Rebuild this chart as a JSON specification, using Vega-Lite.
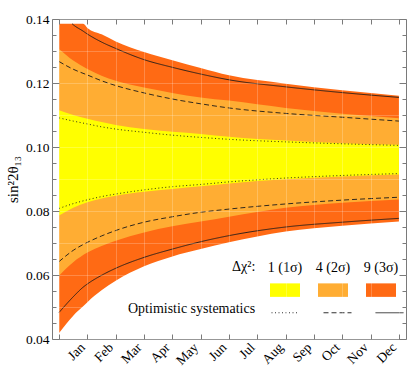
{
  "$schema": "https://vega.github.io/schema/vega-lite/v6.json",
  "width": 354,
  "height": 320,
  "autosize": {"type": "none"},
  "padding": {"left": 52, "top": 19, "right": 1, "bottom": 33},
  "background": "white",
  "config": {
    "view": {"stroke": "#7a7a7a", "strokeWidth": 1},
    "font": "Liberation Serif",
    "axis": {"labelFont": "Liberation Serif", "labelFontSize": 13.5, "labelColor": "black", "domain": false, "tickColor": "#7a7a7a", "titleFont": "Liberation Serif", "titleFontWeight": "normal", "titleColor": "black"},
    "legend": {"labelFont": "Liberation Serif", "titleFont": "Liberation Serif", "labelFontSize": 14, "titleFontSize": 14, "titleFontWeight": "normal", "labelColor": "black", "titleColor": "black"}
  },
  "datasets": {
    "bands": [
      {"t": 0, "band": "9 (3σ)", "lo": 0.0419, "hi": 0.1385},
      {"t": 0.5, "band": "9 (3σ)", "lo": 0.0473, "hi": 0.1385},
      {"t": 0.85, "band": "9 (3σ)", "lo": 0.0502, "hi": 0.1385},
      {"t": 1, "band": "9 (3σ)", "lo": 0.0515, "hi": 0.1372},
      {"t": 1.5, "band": "9 (3σ)", "lo": 0.0552, "hi": 0.1352},
      {"t": 2, "band": "9 (3σ)", "lo": 0.0582, "hi": 0.1330},
      {"t": 3, "band": "9 (3σ)", "lo": 0.0627, "hi": 0.1297},
      {"t": 4, "band": "9 (3σ)", "lo": 0.0658, "hi": 0.1271},
      {"t": 5, "band": "9 (3σ)", "lo": 0.0681, "hi": 0.1247},
      {"t": 6, "band": "9 (3σ)", "lo": 0.0702, "hi": 0.1224},
      {"t": 8, "band": "9 (3σ)", "lo": 0.0736, "hi": 0.1198},
      {"t": 10, "band": "9 (3σ)", "lo": 0.0754, "hi": 0.1177},
      {"t": 12, "band": "9 (3σ)", "lo": 0.0767, "hi": 0.1160},
      {"t": 0, "band": "4 (2σ)", "lo": 0.0598, "hi": 0.1306},
      {"t": 0.5, "band": "4 (2σ)", "lo": 0.0640, "hi": 0.1270},
      {"t": 1, "band": "4 (2σ)", "lo": 0.0670, "hi": 0.1244},
      {"t": 1.5, "band": "4 (2σ)", "lo": 0.0691, "hi": 0.1223},
      {"t": 2, "band": "4 (2σ)", "lo": 0.0707, "hi": 0.1207},
      {"t": 3, "band": "4 (2σ)", "lo": 0.0733, "hi": 0.1186},
      {"t": 4, "band": "4 (2σ)", "lo": 0.0752, "hi": 0.1169},
      {"t": 5, "band": "4 (2σ)", "lo": 0.0767, "hi": 0.1155},
      {"t": 6, "band": "4 (2σ)", "lo": 0.0782, "hi": 0.1145},
      {"t": 8, "band": "4 (2σ)", "lo": 0.0810, "hi": 0.1122},
      {"t": 10, "band": "4 (2σ)", "lo": 0.0826, "hi": 0.1104},
      {"t": 12, "band": "4 (2σ)", "lo": 0.0836, "hi": 0.1090},
      {"t": 0, "band": "1 (1σ)", "lo": 0.0786, "hi": 0.1115},
      {"t": 0.5, "band": "1 (1σ)", "lo": 0.0810, "hi": 0.1100},
      {"t": 1, "band": "1 (1σ)", "lo": 0.0827, "hi": 0.1088},
      {"t": 1.5, "band": "1 (1σ)", "lo": 0.0839, "hi": 0.1078},
      {"t": 2, "band": "1 (1σ)", "lo": 0.0848, "hi": 0.1069},
      {"t": 3, "band": "1 (1σ)", "lo": 0.0860, "hi": 0.1056},
      {"t": 4, "band": "1 (1σ)", "lo": 0.0869, "hi": 0.1048},
      {"t": 5, "band": "1 (1σ)", "lo": 0.0877, "hi": 0.1041},
      {"t": 6, "band": "1 (1σ)", "lo": 0.0886, "hi": 0.1032},
      {"t": 8, "band": "1 (1σ)", "lo": 0.0899, "hi": 0.1020},
      {"t": 10, "band": "1 (1σ)", "lo": 0.0908, "hi": 0.1012},
      {"t": 12, "band": "1 (1σ)", "lo": 0.0914, "hi": 0.1007}
    ],
    "lines": [
      {"t": 0.46, "sys": "3σ", "side": "up", "v": 0.1385},
      {"t": 0.5, "sys": "3σ", "side": "up", "v": 0.1382},
      {"t": 0.85, "sys": "3σ", "side": "up", "v": 0.1362},
      {"t": 1, "sys": "3σ", "side": "up", "v": 0.1353},
      {"t": 1.5, "sys": "3σ", "side": "up", "v": 0.1328},
      {"t": 2, "sys": "3σ", "side": "up", "v": 0.1308},
      {"t": 3, "sys": "3σ", "side": "up", "v": 0.1273},
      {"t": 4, "sys": "3σ", "side": "up", "v": 0.1249},
      {"t": 5, "sys": "3σ", "side": "up", "v": 0.1228},
      {"t": 6, "sys": "3σ", "side": "up", "v": 0.1210},
      {"t": 8, "sys": "3σ", "side": "up", "v": 0.1188},
      {"t": 10, "sys": "3σ", "side": "up", "v": 0.1170},
      {"t": 12, "sys": "3σ", "side": "up", "v": 0.1155},
      {"t": 0, "sys": "3σ", "side": "lo", "v": 0.0483},
      {"t": 0.5, "sys": "3σ", "side": "lo", "v": 0.0532},
      {"t": 0.85, "sys": "3σ", "side": "lo", "v": 0.0562},
      {"t": 1, "sys": "3σ", "side": "lo", "v": 0.0572},
      {"t": 1.5, "sys": "3σ", "side": "lo", "v": 0.0599},
      {"t": 2, "sys": "3σ", "side": "lo", "v": 0.0621},
      {"t": 3, "sys": "3σ", "side": "lo", "v": 0.0655},
      {"t": 4, "sys": "3σ", "side": "lo", "v": 0.0681},
      {"t": 5, "sys": "3σ", "side": "lo", "v": 0.0704},
      {"t": 6, "sys": "3σ", "side": "lo", "v": 0.0723},
      {"t": 8, "sys": "3σ", "side": "lo", "v": 0.0750},
      {"t": 10, "sys": "3σ", "side": "lo", "v": 0.0765},
      {"t": 12, "sys": "3σ", "side": "lo", "v": 0.0777},
      {"t": 0, "sys": "2σ", "side": "up", "v": 0.1267},
      {"t": 0.5, "sys": "2σ", "side": "up", "v": 0.1243},
      {"t": 1, "sys": "2σ", "side": "up", "v": 0.1225},
      {"t": 1.5, "sys": "2σ", "side": "up", "v": 0.1207},
      {"t": 2, "sys": "2σ", "side": "up", "v": 0.1192},
      {"t": 3, "sys": "2σ", "side": "up", "v": 0.1169},
      {"t": 4, "sys": "2σ", "side": "up", "v": 0.1150},
      {"t": 5, "sys": "2σ", "side": "up", "v": 0.1135},
      {"t": 6, "sys": "2σ", "side": "up", "v": 0.1122},
      {"t": 8, "sys": "2σ", "side": "up", "v": 0.1105},
      {"t": 10, "sys": "2σ", "side": "up", "v": 0.1093},
      {"t": 12, "sys": "2σ", "side": "up", "v": 0.1081},
      {"t": 0, "sys": "2σ", "side": "lo", "v": 0.0642},
      {"t": 0.5, "sys": "2σ", "side": "lo", "v": 0.0677},
      {"t": 1, "sys": "2σ", "side": "lo", "v": 0.0702},
      {"t": 1.5, "sys": "2σ", "side": "lo", "v": 0.0722},
      {"t": 2, "sys": "2σ", "side": "lo", "v": 0.0739},
      {"t": 3, "sys": "2σ", "side": "lo", "v": 0.0765},
      {"t": 4, "sys": "2σ", "side": "lo", "v": 0.0782},
      {"t": 5, "sys": "2σ", "side": "lo", "v": 0.0796},
      {"t": 6, "sys": "2σ", "side": "lo", "v": 0.0806},
      {"t": 8, "sys": "2σ", "side": "lo", "v": 0.0822},
      {"t": 10, "sys": "2σ", "side": "lo", "v": 0.0834},
      {"t": 12, "sys": "2σ", "side": "lo", "v": 0.0843},
      {"t": 0, "sys": "1σ", "side": "up", "v": 0.1091},
      {"t": 0.5, "sys": "1σ", "side": "up", "v": 0.1081},
      {"t": 1, "sys": "1σ", "side": "up", "v": 0.1072},
      {"t": 1.5, "sys": "1σ", "side": "up", "v": 0.1063},
      {"t": 2, "sys": "1σ", "side": "up", "v": 0.1056},
      {"t": 3, "sys": "1σ", "side": "up", "v": 0.1046},
      {"t": 4, "sys": "1σ", "side": "up", "v": 0.1037},
      {"t": 5, "sys": "1σ", "side": "up", "v": 0.1030},
      {"t": 6, "sys": "1σ", "side": "up", "v": 0.1024},
      {"t": 8, "sys": "1σ", "side": "up", "v": 0.1016},
      {"t": 10, "sys": "1σ", "side": "up", "v": 0.1010},
      {"t": 12, "sys": "1σ", "side": "up", "v": 0.1005},
      {"t": 0, "sys": "1σ", "side": "lo", "v": 0.0808},
      {"t": 0.5, "sys": "1σ", "side": "lo", "v": 0.0823},
      {"t": 1, "sys": "1σ", "side": "lo", "v": 0.0835},
      {"t": 1.5, "sys": "1σ", "side": "lo", "v": 0.0845},
      {"t": 2, "sys": "1σ", "side": "lo", "v": 0.0853},
      {"t": 3, "sys": "1σ", "side": "lo", "v": 0.0866},
      {"t": 4, "sys": "1σ", "side": "lo", "v": 0.0876},
      {"t": 5, "sys": "1σ", "side": "lo", "v": 0.0883},
      {"t": 6, "sys": "1σ", "side": "lo", "v": 0.0891},
      {"t": 8, "sys": "1σ", "side": "lo", "v": 0.0903},
      {"t": 10, "sys": "1σ", "side": "lo", "v": 0.0911},
      {"t": 12, "sys": "1σ", "side": "lo", "v": 0.0917}
    ]
  },
  "resolve": {"axis": {"x": "independent", "y": "independent"}},
  "layer": [
    {
      "data": {"name": "bands"},
      "transform": [{"filter": "datum.band == '9 (3σ)'"}],
      "mark": {"type": "area", "interpolate": "monotone"},
      "encoding": {
        "x": {"field": "t", "type": "quantitative",
          "scale": {"domain": [-0.25, 12.25], "nice": false, "zero": false},
          "axis": {"orient": "bottom", "values": [0,1,2,3,4,5,6,7,8,9,10,11,12],
            "labelExpr": "['','Jan','Feb','Mar','Apr','May','Jun','Jul','Aug','Sep','Oct','Nov','Dec'][datum.value]",
            "labelAngle": -45, "labelAlign": "right", "labelBaseline": "middle", "labelPadding": 11, "labelOffset": -5,
            "tickSize": -5, "title": null, "grid": true, "gridColor": "white", "gridOpacity": 0.22, "zindex": 1}},
        "y": {"field": "lo", "type": "quantitative",
          "scale": {"domain": [0.04, 0.14], "nice": false, "zero": false},
          "axis": {"orient": "left",
            "values": [0.04,0.045,0.05,0.055,0.06,0.065,0.07,0.075,0.08,0.085,0.09,0.095,0.1,0.105,0.11,0.115,0.12,0.125,0.13,0.135,0.14],
            "labelExpr": "abs(datum.value*50 - round(datum.value*50)) < 0.01 ? format(datum.value, '.2f') : ''",
            "tickSize": {"condition": {"test": "abs(datum.value*50 - round(datum.value*50)) < 0.01", "value": -7}, "value": -4},
            "labelPadding": 10,
            "title": "sin²2θ₁₃", "titleFontSize": 15, "titlePadding": 5,
            "grid": true, "gridColor": "white",
            "gridOpacity": {"condition": {"test": "abs(datum.value*100 - round(datum.value*100)) < 0.01", "value": 0.22}, "value": 0},
            "zindex": 1}},
        "y2": {"field": "hi"},
        "fill": {"field": "band", "type": "nominal",
          "scale": {"domain": ["1 (1σ)", "4 (2σ)", "9 (3σ)"], "range": ["#FFFF00", "#FFAD33", "#FF6A14"]},
          "legend": {"orient": "none", "legendX": 180, "legendY": 241, "direction": "horizontal",
            "title": "Δχ²:", "titleOrient": "left", "titleAnchor": "start", "titleBaseline": "top", "titlePadding": 14,
            "labelAlign": "center", "labelBaseline": "bottom", "labelOffset": -15, "columnPadding": 12,
            "symbolType": "M-1,0.55H1V1.45H-1Z", "symbolSize": 900, "symbolStrokeWidth": 0}}
      }
    },
    {
      "data": {"name": "bands"},
      "transform": [{"filter": "datum.band == '4 (2σ)'"}],
      "mark": {"type": "area", "interpolate": "monotone"},
      "encoding": {
        "x": {"field": "t", "type": "quantitative",
          "axis": {"orient": "top", "values": [0,1,2,3,4,5,6,7,8,9,10,11,12], "labels": false, "tickSize": -5, "title": null, "grid": false, "zindex": 1}},
        "y": {"field": "lo", "type": "quantitative",
          "axis": {"orient": "right",
            "values": [0.04,0.045,0.05,0.055,0.06,0.065,0.07,0.075,0.08,0.085,0.09,0.095,0.1,0.105,0.11,0.115,0.12,0.125,0.13,0.135,0.14],
            "labels": false,
            "tickSize": {"condition": {"test": "abs(datum.value*50 - round(datum.value*50)) < 0.01", "value": -7}, "value": -4},
            "title": null, "grid": false, "zindex": 1}},
        "y2": {"field": "hi"},
        "fill": {"field": "band", "type": "nominal"}
      }
    },
    {
      "data": {"name": "bands"},
      "transform": [{"filter": "datum.band == '1 (1σ)'"}],
      "mark": {"type": "area", "interpolate": "monotone"},
      "encoding": {
        "x": {"field": "t", "type": "quantitative", "axis": null},
        "y": {"field": "lo", "type": "quantitative", "axis": null},
        "y2": {"field": "hi"},
        "fill": {"field": "band", "type": "nominal"}
      }
    },
    {
      "data": {"name": "lines"},
      "mark": {"type": "line", "interpolate": "monotone", "stroke": "#1a1a1a", "strokeWidth": 0.9},
      "encoding": {
        "x": {"field": "t", "type": "quantitative", "axis": null},
        "y": {"field": "v", "type": "quantitative", "axis": null},
        "detail": {"field": "side"},
        "strokeDash": {"field": "sys", "type": "nominal",
          "scale": {"domain": ["1σ", "2σ", "3σ"], "range": [[1, 2.5], [5, 3], [1, 0]]},
          "legend": {"orient": "none", "legendX": 76, "legendY": 279, "direction": "horizontal", "title": "Optimistic systematics", "titleOrient": "left", "titlePadding": 15, "titleAnchor": "middle", "titleBaseline": "middle",
            "labelExpr": "''", "labelOffset": 0, "columnPadding": 19, "symbolType": "stroke", "symbolSize": 784, "symbolStrokeColor": "#1a1a1a", "symbolStrokeWidth": 0.9}}
      }
    }
  ]
}
